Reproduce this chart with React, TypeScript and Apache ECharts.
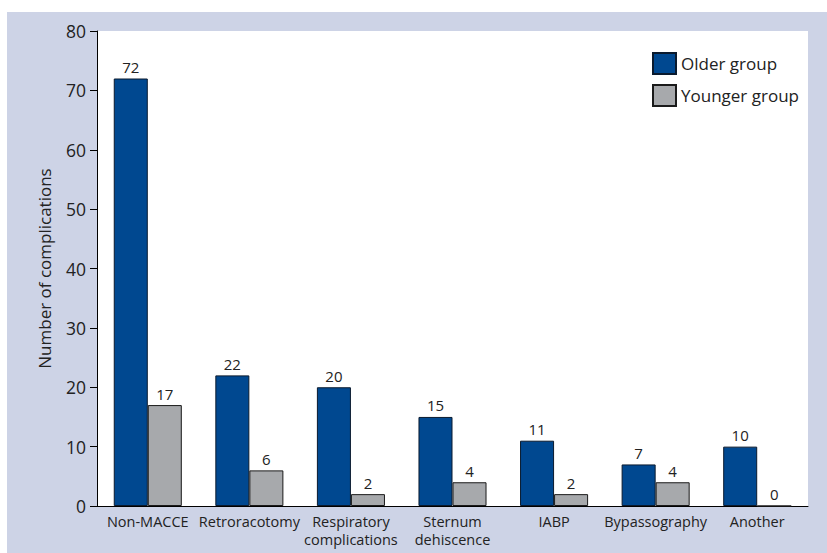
import React, { useEffect, useRef } from "react";
import * as echarts from "echarts";

const categories = [
  "Non-MACCE",
  "Retroracotomy",
  "Respiratory\ncomplications",
  "Sternum\ndehiscence",
  "IABP",
  "Bypassography",
  "Another",
];
const olderGroup = [72, 22, 20, 15, 11, 7, 10];
const youngerGroup = [17, 6, 2, 4, 2, 4, 0];
const yTicks = { min: 0, max: 80, interval: 10 };

const FONT = "'Open Sans', 'Noto Sans', sans-serif";

export default function App() {
  const ref = useRef<HTMLDivElement>(null);
  useEffect(() => {
    const chart = echarts.init(ref.current!, null, { renderer: "svg" });
    chart.setOption({
      animation: false,
      textStyle: { fontFamily: FONT },
      graphic: [
        {
          type: "rect",
          z: -10,
          silent: true,
          shape: { x: 7, y: 12, width: 820, height: 541 },
          style: { fill: "#cdd3e6" },
        },
      ],
      grid: {
        show: true,
        left: 97,
        top: 31,
        right: 19,
        bottom: 47,
        backgroundColor: "#ffffff",
        borderWidth: 0,
      },
      legend: {
        orient: "vertical",
        left: 647,
        top: 47,
        itemWidth: 23,
        itemHeight: 21,
        itemGap: 9,
        icon: "rect",
        textStyle: { fontSize: 17, color: "#222", fontFamily: FONT },
        data: ["Older group", "Younger group"],
      },
      xAxis: {
        type: "category",
        data: categories,
        axisLine: { show: true, lineStyle: { color: "#000", width: 1 } },
        axisTick: { show: false },
        axisLabel: {
          color: "#222",
          fontSize: 14.5,
          margin: 6,
          lineHeight: 18,
          interval: 0,
          fontFamily: FONT,
        },
      },
      yAxis: {
        type: "value",
        min: yTicks.min,
        max: yTicks.max,
        interval: yTicks.interval,
        name: "Number of complications",
        nameLocation: "middle",
        nameGap: 44,
        nameTextStyle: { fontSize: 17, color: "#222", fontFamily: FONT },
        axisLine: { show: true, lineStyle: { color: "#000", width: 1 } },
        axisTick: { show: true, length: 7, lineStyle: { color: "#000" } },
        axisLabel: { color: "#222", fontSize: 17.5, margin: 11, fontFamily: FONT },
        splitLine: { show: false },
      },
      series: [
        {
          name: "Older group",
          type: "bar",
          data: olderGroup,
          barGap: "0%",
          barCategoryGap: "33%",
          itemStyle: { color: "#004890", borderColor: "#0a1a2e", borderWidth: 1 },
          label: {
            show: true,
            position: "top",
            distance: 4,
            color: "#222",
            fontSize: 15,
            fontFamily: FONT,
          },
        },
        {
          name: "Younger group",
          type: "bar",
          data: youngerGroup,
          itemStyle: { color: "#a7a9ac", borderColor: "#1a1a1a", borderWidth: 1 },
          label: {
            show: true,
            position: "top",
            distance: 4,
            color: "#222",
            fontSize: 15,
            fontFamily: FONT,
          },
        },
      ],
    });
    return () => chart.dispose();
  }, []);
  return (
    <div
      ref={ref}
      style={{ position: "absolute", left: 0, top: 0, width: 827, height: 553 }}
    />
  );
}
